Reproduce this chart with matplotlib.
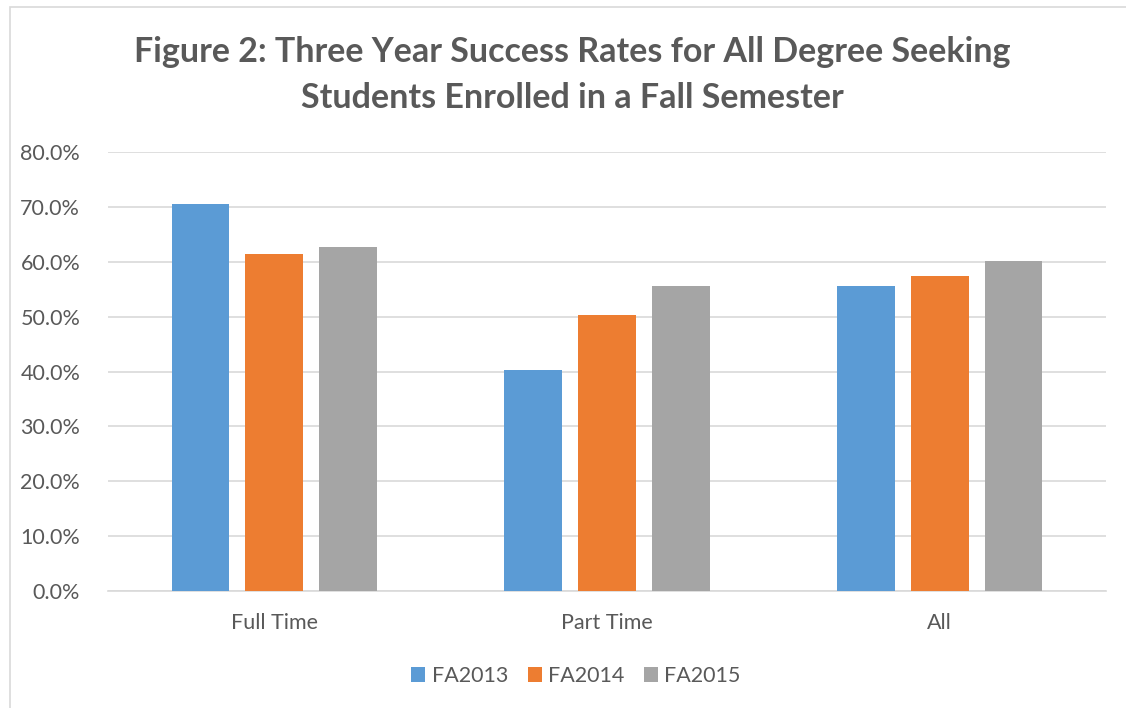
import numpy as np
import matplotlib
matplotlib.use('Agg')
import matplotlib.pyplot as plt
from matplotlib.patches import Rectangle
from matplotlib.ticker import FuncFormatter

categories = ['Full Time', 'Part Time', 'All']
series_names = ['FA2013', 'FA2014', 'FA2015']
fa2013 = [70.5, 40.3, 55.6]
fa2014 = [61.4, 50.3, 57.4]
fa2015 = [62.6, 55.6, 60.2]
colors = ['#5B9BD5', '#ED7D31', '#A5A5A5']

plt.rcParams['font.family'] = ['Lato', 'DejaVu Sans']
text_color = '#595959'

fig = plt.figure(figsize=(11.26, 7.08), dpi=100)
ax = fig.add_axes([108 / 1126, 1 - 591 / 708, 998 / 1126, 439 / 708])

# thin frame around the chart area like the Excel chart
fig.patches.append(Rectangle((10 / 1126, -0.05), 1.2, 1 - 7 / 708 + 0.05,
                             transform=fig.transFigure, fill=False,
                             edgecolor='#D9D9D9', linewidth=1.2))

x = np.arange(len(categories))
width = 0.174
offset = 0.222
for i, (vals, name) in enumerate(zip([fa2013, fa2014, fa2015], series_names)):
    ax.bar(x + (i - 1) * offset, vals, width, color=colors[i], label=name, zorder=3)

ax.set_xlim(-0.5, 2.5)
ax.set_ylim(0, 80)
ax.set_yticks(np.arange(0, 81, 10))
ax.yaxis.set_major_formatter(FuncFormatter(lambda v, p: f'{v:.1f}%'))
ax.set_xticks(x)
ax.set_xticklabels(categories)
ax.grid(axis='y', color='#D9D9D9', linewidth=1.2, zorder=0)
for s in ['top', 'right', 'left']:
    ax.spines[s].set_visible(False)
ax.spines['bottom'].set_color('#D9D9D9')
ax.spines['bottom'].set_linewidth(1.2)
ax.tick_params(axis='both', length=0, labelsize=15.5, colors=text_color)
ax.tick_params(axis='x', pad=16)
ax.tick_params(axis='y', pad=20)

fig.text(572 / 1126, 1 - 75 / 708, 'Figure 2: Three Year Success Rates for All Degree Seeking\nStudents Enrolled in a Fall Semester',
         ha='center', va='center', fontsize=24.5, fontweight='bold', color=text_color, linespacing=1.5)

leg = fig.legend(loc='center', bbox_to_anchor=(576 / 1126, 1 - 676 / 708), ncol=3, frameon=False,
                 fontsize=15.5, handlelength=0.65, handleheight=0.65, handletextpad=0.3, columnspacing=0.9)
for t in leg.get_texts():
    t.set_color(text_color)

fig.savefig('out.png', dpi=100, facecolor='white')
